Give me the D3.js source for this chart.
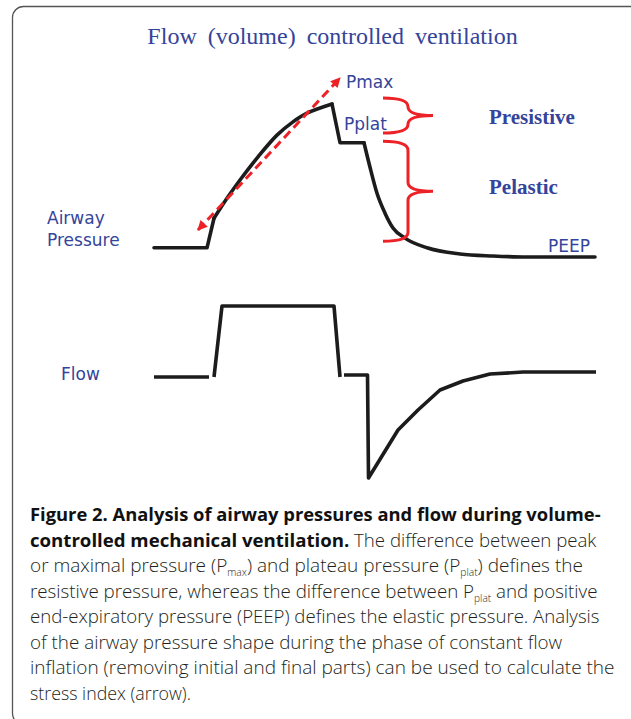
<!DOCTYPE html>
<html><head><meta charset="utf-8">
<script src="https://cdn.jsdelivr.net/npm/d3@7"></script>
<style>
body{margin:0;background:#fff}
svg{display:block}
text{white-space:pre}
</style>
</head><body>
<script>
// ---------------- DATA ----------------
// Airway pressure trace (time in s, pressure in cmH2O)
const pressureTime   = [0, 0.53, 0.60, 0.74, 0.86, 1.03, 1.23, 1.39, 1.53, 1.78, 1.86, 2.10, 2.16, 2.23, 2.31, 2.39, 2.51, 2.73, 3.06, 3.39, 3.73, 4.41];
const pressureValues = [6.8, 6.8, 12.6, 16.8, 20.1, 24.4, 28.9, 31.5, 33.2, 35.0, 27.4, 27.4, 22.6, 17.5, 13.6, 10.7, 8.7, 6.8, 5.6, 5.2, 5.0, 5.0];

// Flow trace (time in s, flow in L/min); null = pen lift
const flowTime   = [0, 0.55, 0.57, 0.60, 0.68, 1.80, 1.86, 1.88, 1.90, 2.135, 2.145, 2.44, 2.64, 2.86, 3.09, 3.36, 3.69, 4.03, 4.42];
const flowValues = [0, 0, null, 0, 60, 60, 0, null, 1.7, 1.7, -85.4, -44.8, -27.9, -11, -3.4, 2.5, 4.2, 4.2, 4.2];

// Stress-index arrow (time, pressure)
const arrowTime  = [0.44, 1.86];
const arrowPress = [10.3, 40.1];

// Braces: pressure ranges
const braceLabels = ["Presistive", "Pelastic"];
const braceTop    = [36.2, 27.7];
const braceBottom = [29.3, 8.1];

const titleText = "Flow (volume) controlled ventilation";

const captionLines = [
  [["b","Figure 2. Analysis of airway pressures and flow during volume-"]],
  [["b","controlled mechanical ventilation."],["r"," The difference between peak"]],
  [["r","or maximal pressure (P"],["s","max"],["r",") and plateau pressure (P"],["s","plat"],["r",") defines the"]],
  [["r","resistive pressure, whereas the difference between P"],["s","plat"],["r"," and positive"]],
  [["r","end-expiratory pressure (PEEP) defines the elastic pressure. Analysis"]],
  [["r","of the airway pressure shape during the phase of constant flow"]],
  [["r","inflation (removing initial and final parts) can be used to calculate the"]],
  [["r","stress index (arrow)."]]
];

// ---------------- LAYOUT ----------------
const W = 631, H = 719;
const blue = "#34449a", red = "#ec2227", ink = "#1c1c1c";

const svg = d3.select("body").append("svg").attr("width", W).attr("height", H);

// rounded frame
svg.append("rect").attr("x", 12.5).attr("y", 6.5).attr("width", 640).attr("height", 718)
  .attr("rx", 11).attr("fill", "none").attr("stroke", "#555").attr("stroke-width", 1.3);

// title
svg.append("text").attr("x", 332.5).attr("y", 44).attr("text-anchor", "middle")
  .attr("font-family", "Liberation Serif, Times New Roman, serif").attr("font-size", 24)
  .attr("word-spacing", 5).attr("fill", blue).text(titleText);

// scales
const x = d3.scaleLinear().domain([0, 4.42]).range([154, 596]);
const yP = d3.scaleLinear().domain([0, 40]).range([282.5, 78.5]);
const yF = d3.scaleLinear().domain([-90, 65]).range([377 + 90 * 1.183, 377 - 65 * 1.183]);

// pressure line, drawn in pieces: steps linear, rise & decay smooth
const pressureData = pressureTime.map((t, i) => ({t, v: pressureValues[i]}));
const pieces = [
  [0, 2, d3.curveLinear],
  [2, 9, d3.curveCatmullRom.alpha(0.5)],
  [9, 11, d3.curveLinear],
  [11, pressureData.length - 1, d3.curveMonotoneX]
];
pieces.forEach(([a, b, c]) => {
  svg.append("path").datum(pressureData.slice(a, b + 1))
    .attr("d", d3.line().curve(c).x(d => x(d.t)).y(d => yP(d.v)))
    .attr("fill", "none").attr("stroke", ink).attr("stroke-width", 3.6)
    .attr("stroke-linejoin", "round").attr("stroke-linecap", "round");
});

// flow line
const flowData = flowTime.map((t, i) => ({t, v: flowValues[i]}));
svg.append("path").datum(flowData)
  .attr("d", d3.line().defined(d => d.v !== null).x(d => x(d.t)).y(d => yF(d.v)))
  .attr("fill", "none").attr("stroke", ink).attr("stroke-width", 3.6).attr("stroke-linejoin", "round");

// arrow marker
const defs = svg.append("defs");
defs.append("marker").attr("id", "ah").attr("viewBox", "0 0 10 10")
  .attr("refX", 9).attr("refY", 5).attr("markerWidth", 11).attr("markerHeight", 10)
  .attr("markerUnits", "userSpaceOnUse").attr("orient", "auto-start-reverse")
  .append("path").attr("d", "M0,0 L10,5 L0,10 Z").attr("fill", red);

svg.append("line")
  .attr("x1", x(arrowTime[0])).attr("y1", yP(arrowPress[0]))
  .attr("x2", x(arrowTime[1])).attr("y2", yP(arrowPress[1]))
  .attr("stroke", red).attr("stroke-width", 3).attr("stroke-dasharray", "9,5")
  .attr("marker-start", "url(#ah)").attr("marker-end", "url(#ah)");

// braces
const bx0 = x(2.29), bxv = x(2.54), bxm = x(2.79);
braceTop.forEach((top, i) => {
  const y0 = yP(top), y1 = yP(braceBottom[i]), ym = (y0 + y1) / 2;
  const r = Math.min(9, (y1 - y0) / 4);
  const d = `M${bx0},${y0} Q${bxv},${y0} ${bxv},${y0 + r} L${bxv},${ym - r} Q${bxv},${ym} ${bxm},${ym}`
          + ` Q${bxv},${ym} ${bxv},${ym + r} L${bxv},${y1 - r} Q${bxv},${y1} ${bx0},${y1}`;
  svg.append("path").attr("d", d).attr("fill", "none").attr("stroke", red).attr("stroke-width", 3);
  svg.append("text").attr("x", 489).attr("y", i === 0 ? 124 : 194)
    .attr("font-family", "Liberation Serif, Times New Roman, serif").attr("font-weight", "bold")
    .attr("font-size", 21).attr("fill", blue).text(braceLabels[i]);
});

// small labels
const lab = (t, px, py) => svg.append("text").attr("x", px).attr("y", py)
  .attr("font-family", "DejaVu Sans, sans-serif").attr("font-size", 17).attr("fill", blue).text(t);
lab("Pmax", 346, 88);
lab("Pplat", 344, 130);
lab("PEEP", 548, 252);
lab("Airway", 47, 224);
lab("Pressure", 47, 246);
lab("Flow", 61, 380);

// caption
const capX = 30;
const lineEnds = [601, 597, 583, 598, 600, 563, 615, 191];
captionLines.forEach((segs, i) => {
  const yb = 521 + i * 25.5;
  const g = svg.append("g");
  const t = g.append("text").attr("x", 0).attr("y", 0)
    .attr("font-family", "Open Sans, Noto Sans, sans-serif").attr("font-size", 18.5)
    .attr("font-weight", 300).attr("fill", "#231f20");
  let sub = false;
  segs.forEach(([k, s]) => {
    const ts = t.append("tspan").text(s);
    if (k === "b") ts.attr("font-weight", "bold").attr("fill", "#111");
    if (k === "s") { ts.attr("font-size", 10).attr("dy", 4); sub = true; }
    else if (sub) { ts.attr("dy", -4); sub = false; }
  });
  const w = t.node().getBBox().width;
  const sx = (lineEnds[i] - capX) / w;
  g.attr("transform", `translate(${capX},${yb}) scale(${sx},1)`);
});
</script>
</body></html>
